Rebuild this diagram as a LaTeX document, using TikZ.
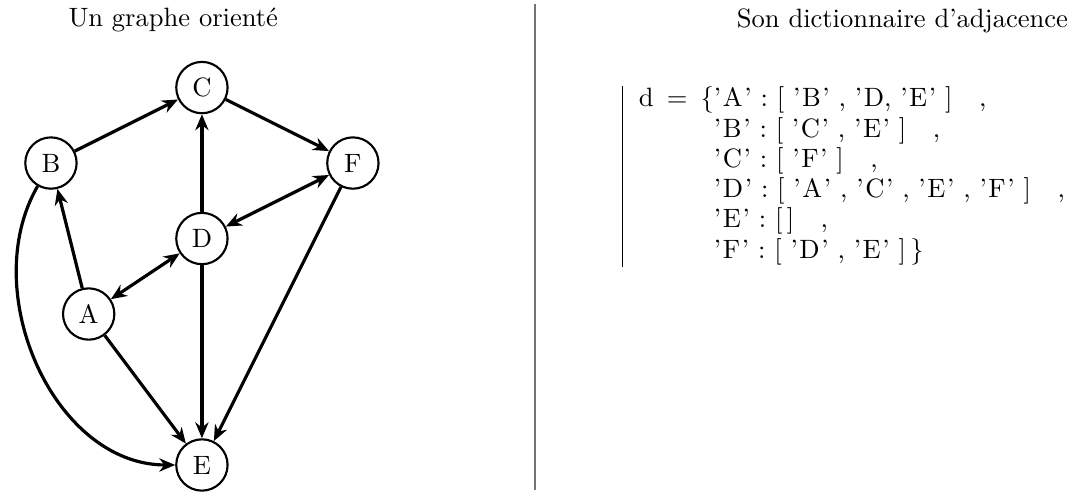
\documentclass[tikz,border=0pt]{standalone}
\usepackage{tikz}
\usetikzlibrary{arrows.meta, positioning}

\newcommand{\cle}[1]{'\kern0.6pt#1\kern0.6pt'}

\begin{document}
\begin{tikzpicture}[sommet/.style={draw, circle, thick, minimum size=6.8mm, inner sep=0pt},
    arc/.style={-{Stealth[length=6pt, width=5pt]}, very thick},
    arcdouble/.style={{Stealth[length=6pt, width=5pt]}-{Stealth[length=6pt, width=5pt]}, very thick}]
    \useasboundingbox (-2.675,-2.37) rectangle (11.5,4.16);

    \node (titregraphe) at (-0.38,3.89) {Un graphe orienté};
    \node (titredico) at (9.28,3.89) {Son dictionnaire d'adjacence};

    \node[sommet] (C) at (0,3) {C};
    \node[sommet] (B) at (-2,2) {B};
    \node[sommet] (F) at (2,2) {F};
    \node[sommet] (D) at (0,1) {D};
    \node[sommet] (A) at (-1.5,0) {A};
    \node[sommet] (E) at (0,-2) {E};

    \draw[arc] (B) -- (C);
    \draw[arc] (C) -- (F);
    \draw[arc] (D) -- (C);
    \draw[arcdouble] (D) -- (F);
    \draw[arcdouble] (A) -- (D);
    \draw[arc] (A) -- (B);
    \draw[arc] (A) -- (E);
    \draw[arc] (D) -- (E);
    \draw[arc] (F) -- (E);
    \draw[arc] (B) to[out=-120, in=180] (E);

    \coordinate (sephaut) at (4.41,4.11);
    \coordinate (sepbas) at (4.41,-2.33);
    \draw[black!55, line width=0.6pt] (sephaut) -- (sepbas);

    \node[anchor=north west, inner sep=0pt] (dico) at (5.57,3.03) {%
        \renewcommand{\arraystretch}{0.95}%
        \begin{tabular}{|l@{}l}
            d \,=\, \{ & \cle{A} : [ \cle{B} , '\kern0.6pt D, \cle{E} ]\quad, \\
                   & \cle{B} : [ \cle{C} , \cle{E} ]\quad, \\
                   & \cle{C} : [ \cle{F} ]\quad, \\
                   & \cle{D} : [ \cle{A} , \cle{C} , \cle{E} , \cle{F} ]\quad, \\
                   & \cle{E} : [\,]\quad, \\
                   & \cle{F} : [ \cle{D} , \cle{E} ]\,\}
        \end{tabular}};
\end{tikzpicture}
\end{document}
